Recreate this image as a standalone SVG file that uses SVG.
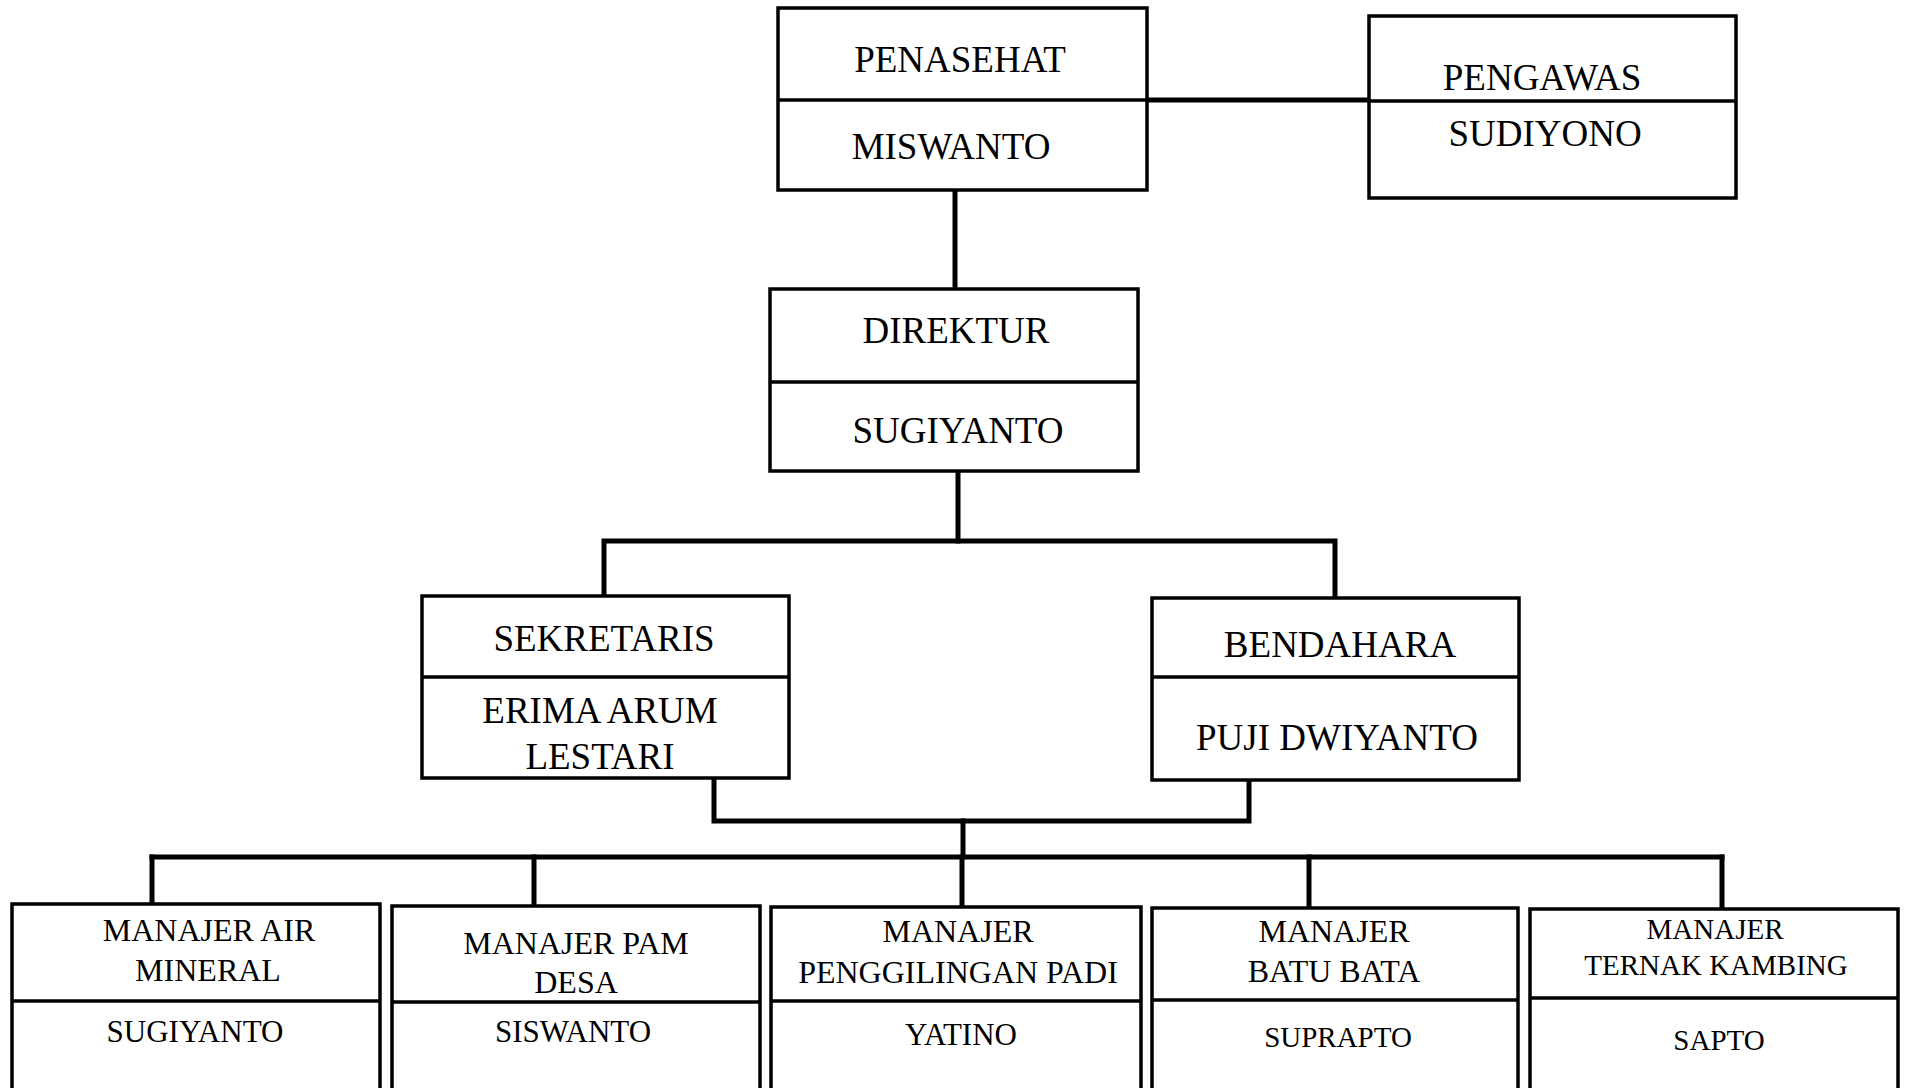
<svg xmlns="http://www.w3.org/2000/svg" width="1907" height="1088" viewBox="0 0 1907 1088">
<style>
.box{fill:#fff;stroke:#000;stroke-width:3.5}
.div{stroke:#000;stroke-width:3.5}
.c{fill:none;stroke:#000;stroke-width:5;stroke-linecap:square}
text{font-family:"Liberation Serif","Times New Roman",serif;fill:#000;text-anchor:middle}
.t1{font-size:37px}
.t2{font-size:32px}
.t3{font-size:31px}
.t4{font-size:29px}
</style>
<rect width="1907" height="1088" fill="#fff"/>
<g id="connectors">
<line class="c" x1="1147" y1="100" x2="1369" y2="100"/>
<line class="c" x1="955" y1="190" x2="955" y2="289"/>
<polyline class="c" points="958,471 958,541"/>
<polyline class="c" points="604,596 604,541 1335,541 1335,598"/>
<polyline class="c" points="714,778 714,821 1249,821 1249,780"/>
<line class="c" x1="963" y1="821" x2="963" y2="857"/>
<line class="c" x1="152" y1="857" x2="1722" y2="857"/>
<line class="c" x1="152" y1="857" x2="152" y2="904"/>
<line class="c" x1="534" y1="857" x2="534" y2="906"/>
<line class="c" x1="962" y1="857" x2="962" y2="907"/>
<line class="c" x1="1309" y1="857" x2="1309" y2="908"/>
<line class="c" x1="1722" y1="857" x2="1722" y2="909"/>
</g>
<g id="penasehat">
<rect class="box" x="778" y="8" width="369" height="182"/>
<line class="div" x1="778" y1="100" x2="1147" y2="100"/>
<text class="t1" x="960" y="72">PENASEHAT</text>
<text class="t1" x="951" y="159">MISWANTO</text>
</g>
<g id="pengawas">
<rect class="box" x="1369" y="16" width="367" height="182"/>
<line class="div" x1="1369" y1="101" x2="1736" y2="101"/>
<text class="t1" x="1542" y="90">PENGAWAS</text>
<text class="t1" x="1545" y="146">SUDIYONO</text>
</g>
<g id="direktur">
<rect class="box" x="770" y="289" width="368" height="182"/>
<line class="div" x1="770" y1="382" x2="1138" y2="382"/>
<text class="t1" x="956" y="343">DIREKTUR</text>
<text class="t1" x="958" y="443">SUGIYANTO</text>
</g>
<g id="sekretaris">
<rect class="box" x="422" y="596" width="367" height="182"/>
<line class="div" x1="422" y1="677" x2="789" y2="677"/>
<text class="t1" x="604" y="651">SEKRETARIS</text>
<text class="t1" x="600" y="723">ERIMA ARUM</text>
<text class="t1" x="600" y="769">LESTARI</text>
</g>
<g id="bendahara">
<rect class="box" x="1152" y="598" width="367" height="182"/>
<line class="div" x1="1152" y1="677" x2="1519" y2="677"/>
<text class="t1" x="1340" y="657">BENDAHARA</text>
<text class="t1" x="1337" y="750">PUJI DWIYANTO</text>
</g>
<g id="manajer-air-mineral">
<rect class="box" x="12" y="904" width="368" height="200"/>
<line class="div" x1="12" y1="1001" x2="380" y2="1001"/>
<text class="t2" x="209" y="941">MANAJER AIR</text>
<text class="t2" x="208" y="981">MINERAL</text>
<text class="t3" x="195" y="1042">SUGIYANTO</text>
</g>
<g id="manajer-pam-desa">
<rect class="box" x="392" y="906" width="368" height="200"/>
<line class="div" x1="392" y1="1002" x2="760" y2="1002"/>
<text class="t2" x="576" y="954">MANAJER PAM</text>
<text class="t2" x="576" y="993">DESA</text>
<text class="t3" x="573" y="1042">SISWANTO</text>
</g>
<g id="manajer-penggilingan-padi">
<rect class="box" x="771" y="907" width="370" height="200"/>
<line class="div" x1="771" y1="1001" x2="1141" y2="1001"/>
<text class="t2" x="958" y="942">MANAJER</text>
<text class="t2" x="958" y="983">PENGGILINGAN PADI</text>
<text class="t3" x="961" y="1045">YATINO</text>
</g>
<g id="manajer-batu-bata">
<rect class="box" x="1152" y="908" width="366" height="200"/>
<line class="div" x1="1152" y1="1000" x2="1518" y2="1000"/>
<text class="t2" x="1334" y="942">MANAJER</text>
<text class="t2" x="1334" y="982">BATU BATA</text>
<text class="t4" x="1338" y="1047">SUPRAPTO</text>
</g>
<g id="manajer-ternak-kambing">
<rect class="box" x="1530" y="909" width="368" height="200"/>
<line class="div" x1="1530" y1="998" x2="1898" y2="998"/>
<text class="t4" x="1715" y="939">MANAJER</text>
<text class="t4" x="1716" y="975">TERNAK KAMBING</text>
<text class="t4" x="1719" y="1050">SAPTO</text>
</g>
</svg>
